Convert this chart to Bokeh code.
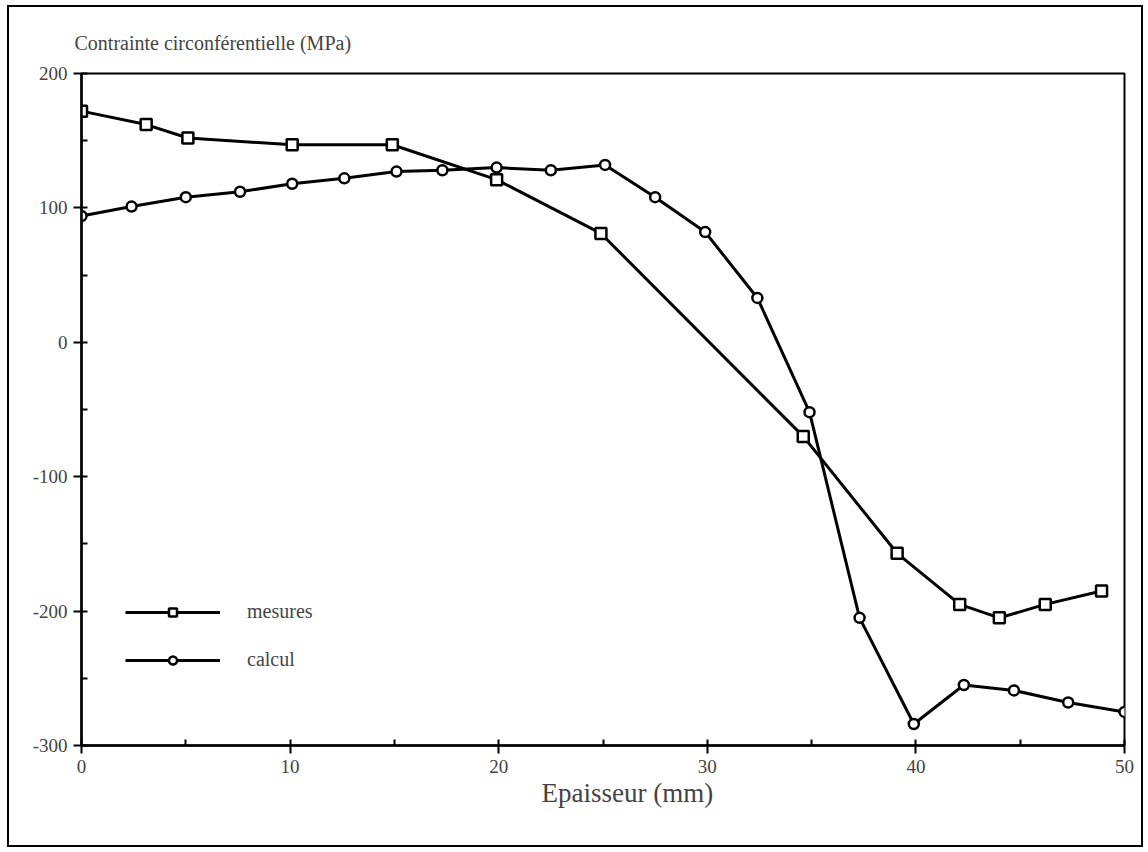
from bokeh.plotting import figure
from bokeh.models import SingleIntervalTicker, Range1d, Legend, LegendItem, PrintfTickFormatter, Title
from bokeh.embed import file_html
from bokeh.resources import INLINE

# mesures (squares)
mes_x = [0.0, 3.1, 5.1, 10.1, 14.9, 19.9, 24.9, 34.6, 39.1, 42.1, 44.0, 46.2, 48.9]
mes_y = [172, 162, 152, 147, 147, 121, 81, -70, -157, -195, -205, -195, -185]

# calcul (circles)
cal_x = [0.0, 2.4, 5.0, 7.6, 10.1, 12.6, 15.1, 17.3, 19.9, 22.5, 25.1, 27.5, 29.9,
         32.4, 34.9, 37.3, 39.9, 42.3, 44.7, 47.3, 50.0]
cal_y = [94, 101, 108, 112, 118, 122, 127, 128, 130, 128, 132, 108, 82,
         33, -52, -205, -284, -255, -259, -268, -275]

FONT = "Liberation Serif"

p = figure(width=1136, height=842, output_backend="svg", toolbar_location=None,
           x_range=Range1d(0, 50), y_range=Range1d(-300, 200),
           min_border_left=72, min_border_right=21, min_border_top=66, min_border_bottom=104)
p.styles = {"margin-left": "7px", "margin-top": "5px", "border": "2px solid black"}

p.title.text = "Contrainte circonférentielle (MPa)"
p.title.text_font = FONT
p.title.text_font_size = "20px"
p.title.text_font_style = "normal"
p.title.align = "left"
p.title.offset = -7
p.title.standoff = 40

p.outline_line_color = "black"
p.outline_line_width = 2
p.xgrid.visible = False
p.ygrid.visible = False

for ax in (p.xaxis[0], p.yaxis[0]):
    ax.axis_line_width = 2.5
    ax.major_tick_line_width = 2
    ax.minor_tick_line_width = 2
    ax.major_tick_out = 8
    ax.major_tick_in = 0
    ax.minor_tick_in = 6
    ax.minor_tick_out = 0
    ax.major_label_text_font = FONT
    ax.major_label_text_font_size = "19px"
    ax.formatter = PrintfTickFormatter(format="%d")

p.xaxis[0].ticker = SingleIntervalTicker(interval=10, num_minor_ticks=2)
p.yaxis[0].ticker = SingleIntervalTicker(interval=100, num_minor_ticks=2)
p.xaxis.major_label_standoff = 6
p.yaxis.major_label_standoff = 6

xtitle = Title(text="Epaisseur (mm)", text_font=FONT, text_font_size="27px",
               text_font_style="normal", align="left", offset=460, standoff=0)
p.add_layout(xtitle, "below")

l1 = p.line(mes_x, mes_y, line_color="black", line_width=3)
s1 = p.scatter(mes_x, mes_y, marker="square", size=11, fill_color="white",
               line_color="black", line_width=2.5)
l2 = p.line(cal_x, cal_y, line_color="black", line_width=3)
s2 = p.scatter(cal_x, cal_y, marker="circle", size=10, fill_color="white",
               line_color="black", line_width=2.5)

legend = Legend(items=[LegendItem(label="mesures", renderers=[l1, s1]),
                       LegendItem(label="calcul", renderers=[l2, s2])],
                location=(44, 74), glyph_width=95, glyph_height=20, spacing=25,
                padding=0, margin=0, label_standoff=27,
                label_text_font=FONT, label_text_font_size="20px",
                border_line_alpha=0, background_fill_alpha=0)
p.add_layout(legend)

open("out.html", "w").write(file_html(p, INLINE))
